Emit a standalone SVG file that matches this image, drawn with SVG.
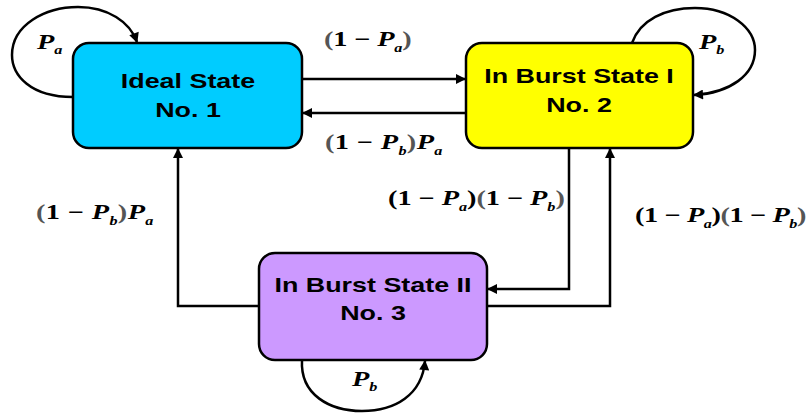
<svg xmlns="http://www.w3.org/2000/svg" width="808" height="413" viewBox="0 0 808 413">
  <style>
    .node { stroke: #000; stroke-width: 2.5; }
    .title { font-family: "Liberation Sans", Arial, sans-serif; font-weight: bold; font-size: 21px; fill: #000; text-anchor: middle; }
    .edge { fill: none; stroke: #000; stroke-width: 2.5; marker-end: url(#arrow); }
    .m { font-family: "Liberation Serif", "Times New Roman", serif; font-weight: bold; font-size: 21px; fill: #000; }
    .i { font-style: italic; }
    .s { font-style: italic; font-size: 12px; }
    .p { fill: #555; }
  </style>
  <defs>
    <marker id="arrow" viewBox="0 0 10 10" refX="9" refY="5" markerWidth="4.4" markerHeight="4" orient="auto" markerUnits="strokeWidth">
      <path d="M0,0 L10,5 L0,10 Z" fill="#000"/>
    </marker>
  </defs>

  <!-- transitions -->
  <g id="connectors">
    <path class="edge" d="M302,79 H465"/>
    <path class="edge" d="M466,113 H303"/>
    <path class="edge" d="M259,306 H178 V149"/>
    <path class="edge" d="M569,148 V289 H488"/>
    <path class="edge" d="M487,306 H610 V149"/>
    <path class="edge" d="M73,97 C 30,97 12,75 12,55 C 12,25 45,7 78,7 C 108,7 130,22 137,42"/>
    <path class="edge" d="M632,43 C 640,20 665,8 695,8 C 730,8 755,28 755,50 C 755,75 730,93 694,95"/>
    <path class="edge" d="M302,360 C 300,395 330,411 362,411 C 395,411 422,395 425,361"/>
  </g>

  <!-- states (text widened 1.28x) -->
  <g id="state1">
    <rect class="node" x="73" y="43" width="229" height="105" rx="16" fill="#00CCFF"/>
    <text class="title" transform="translate(188,88) scale(1.28,1)">Ideal State</text>
    <text class="title" transform="translate(188,117) scale(1.28,1)">No. 1</text>
  </g>
  <g id="state2">
    <rect class="node" x="466" y="43" width="227" height="105" rx="16" fill="#FFFF00"/>
    <text class="title" transform="translate(579,83) scale(1.28,1)">In Burst State I</text>
    <text class="title" transform="translate(579,112) scale(1.28,1)">No. 2</text>
  </g>
  <g id="state3">
    <rect class="node" x="259" y="253" width="228" height="107" rx="16" fill="#CC99FF"/>
    <text class="title" transform="translate(373,292) scale(1.28,1)">In Burst State II</text>
    <text class="title" transform="translate(373,320) scale(1.28,1)">No. 3</text>
  </g>

  <!-- transition probabilities (math text widened 1.35x) -->
  <g id="labels">
    <text class="m" transform="translate(37,49) scale(1.35,1)"><tspan class="i">P</tspan><tspan class="s" dy="5">a</tspan></text>
    <text class="m" transform="translate(699,49) scale(1.35,1)"><tspan class="i">P</tspan><tspan class="s" dy="5">b</tspan></text>
    <text class="m" transform="translate(352,386) scale(1.35,1)"><tspan class="i">P</tspan><tspan class="s" dy="5">b</tspan></text>

    <text class="m" transform="translate(324,46) scale(1.35,1)" textLength="65" lengthAdjust="spacing"><tspan class="p">(</tspan>1 − <tspan class="i">P</tspan><tspan class="s" dy="6">a</tspan><tspan class="p" dy="-6">)</tspan></text>
    <text class="m" transform="translate(325,149) scale(1.35,1)" textLength="87" lengthAdjust="spacing"><tspan class="p">(</tspan>1 − <tspan class="i">P</tspan><tspan class="s" dy="6">b</tspan><tspan class="p" dy="-6">)</tspan><tspan class="i">P</tspan><tspan class="s" dy="6">a</tspan></text>
    <text class="m" transform="translate(36,219) scale(1.35,1)" textLength="87" lengthAdjust="spacing"><tspan class="p">(</tspan>1 − <tspan class="i">P</tspan><tspan class="s" dy="6">b</tspan><tspan class="p" dy="-6">)</tspan><tspan class="i">P</tspan><tspan class="s" dy="6">a</tspan></text>
    <text class="m" transform="translate(388,205) scale(1.35,1)" textLength="131" lengthAdjust="spacing">(1 − <tspan class="i">P</tspan><tspan class="s" dy="6">a</tspan><tspan dy="-6">)</tspan><tspan class="p">(</tspan>1 − <tspan class="i">P</tspan><tspan class="s" dy="6">b</tspan><tspan class="p" dy="-6">)</tspan></text>
    <text class="m" transform="translate(635,222) scale(1.35,1)" textLength="127" lengthAdjust="spacing">(1 − <tspan class="i">P</tspan><tspan class="s" dy="6">a</tspan><tspan dy="-6">)</tspan><tspan class="p">(</tspan>1 − <tspan class="i">P</tspan><tspan class="s" dy="6">b</tspan><tspan class="p" dy="-6">)</tspan></text>
  </g>
</svg>
